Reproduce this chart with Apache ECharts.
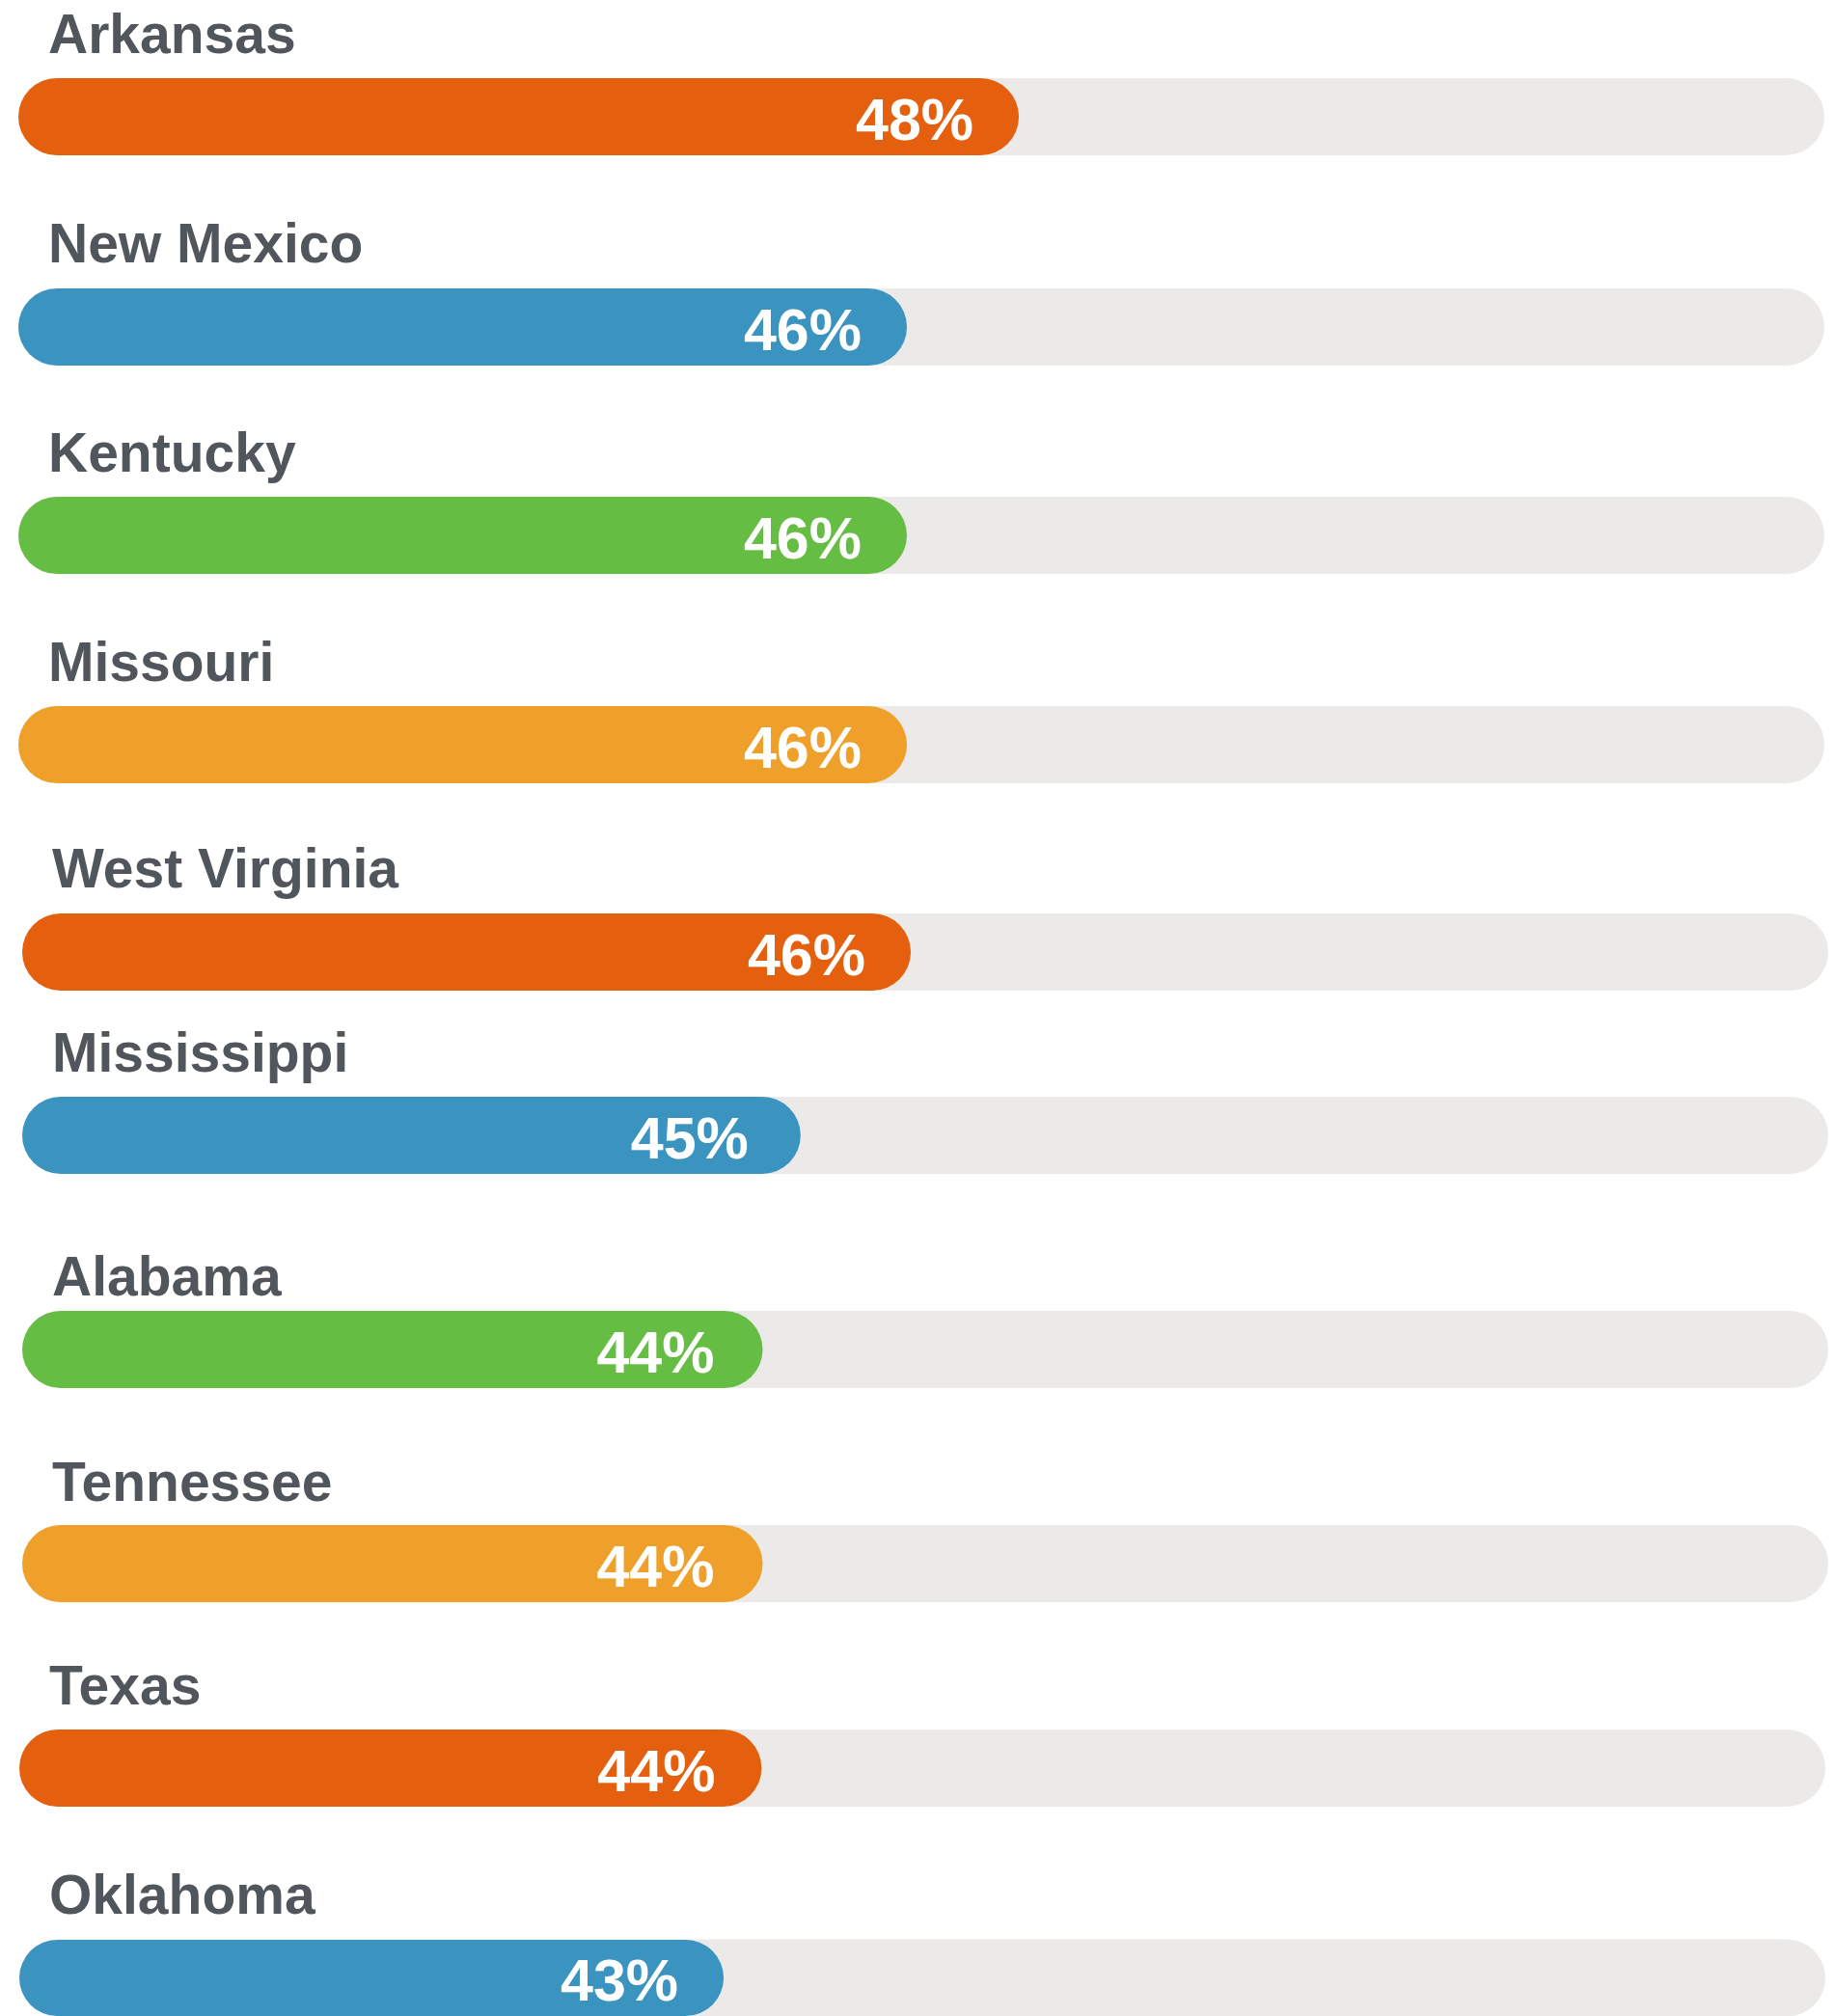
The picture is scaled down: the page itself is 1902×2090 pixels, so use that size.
<!DOCTYPE html>
<html>
<head>
<meta charset="utf-8">
<script src="https://cdn.jsdelivr.net/npm/echarts@6/dist/echarts.min.js"></script>
<style>
html,body{margin:0;padding:0;background:#ffffff;}
#chart{width:1902px;height:2090px;}
</style>
</head>
<body>
<div id="chart"></div>
<script>
// ---- data ----
const states = ["Arkansas", "New Mexico", "Kentucky", "Missouri", "West Virginia",
                "Mississippi", "Alabama", "Tennessee", "Texas", "Oklahoma"];
const percentLabels = [48, 46, 46, 46, 46, 45, 44, 44, 44, 43];
// bar length as a share (%) of the grey track
const barShareOfTrack = [55.4, 49.2, 49.2, 49.2, 49.2, 43.1, 41.0, 41.0, 41.1, 39.0];
const trackMax = 100;

// ---- layout / style (kept apart from data) ----
const rowTops  = [81, 299, 515, 732, 947, 1137, 1359, 1581, 1793, 2011];
const rowLefts = [19, 19, 19, 19, 23, 23, 23, 23, 20, 20];
const labelGap = [25, 26, 25, 25, 26, 25, 15, 24, 25, 26];
const valueDist = [47, 47, 47, 47, 47, 54, 50, 50, 48, 47];
const barColors = ["#e5600e", "#3a94bf", "#66bd44", "#efa02b", "#e5600e",
                   "#3a94bf", "#66bd44", "#efa02b", "#e5600e", "#3a94bf"];
const trackWidth = 1872, barH = 80;
const nameFont = 57, valueFont = 61;

const grids = [], xAxes = [], yAxes = [], series = [], titles = [];
states.forEach((name, i) => {
  grids.push({ left: rowLefts[i], top: rowTops[i], width: trackWidth, height: barH, containLabel: false });
  xAxes.push({ gridIndex: i, type: 'value', min: 0, max: trackMax, show: false });
  yAxes.push({ gridIndex: i, type: 'category', data: [name], show: false });
  series.push({
    type: 'bar', xAxisIndex: i, yAxisIndex: i,
    data: [barShareOfTrack[i]],
    barWidth: barH,
    showBackground: true,
    backgroundStyle: { color: '#ebeae8', borderRadius: barH / 2 },
    itemStyle: { color: barColors[i], borderRadius: barH / 2 },
    label: {
      show: true, position: 'insideRight', distance: valueDist[i], offset: [0, 7],
      formatter: () => percentLabels[i] + '%',
      color: '#ffffff', fontSize: valueFont, fontWeight: 'bold',
      fontFamily: '"Liberation Sans", Arial, sans-serif'
    },
    silent: true
  });
  const baseline = rowTops[i] - labelGap[i];
  titles.push({
    text: name, left: rowLefts[i] + 31, top: baseline - Math.round(0.5 * nameFont + 0.3465 * nameFont) + 3,
    padding: 0,
    textStyle: { fontSize: nameFont, lineHeight: nameFont, fontWeight: 'bold', color: '#51565d',
                 fontFamily: '"Liberation Sans", Arial, sans-serif' }
  });
});

const chart = echarts.init(document.getElementById('chart'), null, { renderer: 'canvas' });
chart.setOption({
  backgroundColor: '#ffffff',
  animation: false,
  title: titles,
  grid: grids,
  xAxis: xAxes,
  yAxis: yAxes,
  series: series,
  tooltip: { show: false }
});
</script>
</body>
</html>
